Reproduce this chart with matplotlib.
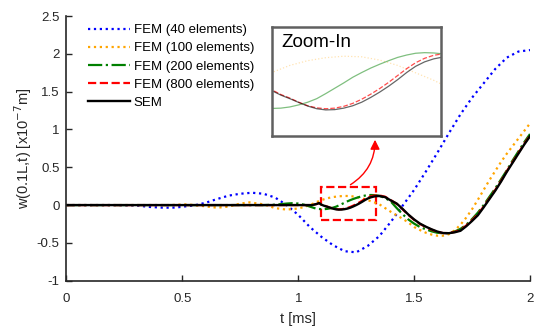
import matplotlib
matplotlib.use('Agg')
import matplotlib.pyplot as plt
from matplotlib.patches import Rectangle

plt.rcParams['font.family'] = ['Liberation Sans', 'DejaVu Sans']

# FEM (40 elements)
t40 = [0, 0.2, 0.3, 0.36, 0.42, 0.47, 0.52, 0.55, 0.6, 0.65, 0.7, 0.75, 0.8, 0.85, 0.9,
       0.95, 1.0, 1.05, 1.1, 1.15, 1.2, 1.25, 1.3, 1.35, 1.4, 1.45, 1.5, 1.55, 1.6, 1.65,
       1.7, 1.75, 1.8, 1.85, 1.9, 1.95, 2.0]
w40 = [0, 0, -0.005, -0.025, -0.035, -0.033, -0.015, -0.005, 0.03, 0.08, 0.125, 0.15,
       0.163, 0.15, 0.1, 0.0, -0.13, -0.29, -0.42, -0.53, -0.61, -0.625, -0.54, -0.41,
       -0.22, -0.01, 0.2, 0.44, 0.69, 0.95, 1.2, 1.42, 1.61, 1.8, 1.95, 2.03, 2.05]

# FEM (100 elements)
t100 = [0, 0.45, 0.52, 0.58, 0.65, 0.7, 0.75, 0.79, 0.85, 0.9, 0.95, 1.0, 1.025, 1.05,
        1.075, 1.1, 1.125, 1.15, 1.175, 1.2, 1.225, 1.25, 1.275, 1.3, 1.325, 1.35, 1.375,
        1.4, 1.425, 1.45, 1.475, 1.5, 1.525, 1.55, 1.575, 1.6, 1.625, 1.65, 1.675, 1.7,
        1.725, 1.75, 1.775, 1.8, 1.825, 1.85, 1.875, 1.9, 1.925, 1.95, 1.975, 2.0]
w100 = [0, 0, 0.01, -0.01, -0.035, -0.02, 0.02, 0.036, 0.01, -0.04, -0.06, -0.045, -0.025,
        0.0, 0.035, 0.066, 0.09, 0.106, 0.116, 0.121, 0.119, 0.108, 0.09, 0.065, 0.04,
        0.01, -0.04, -0.09, -0.135, -0.18, -0.23, -0.29, -0.33, -0.365, -0.39, -0.405,
        -0.405, -0.385, -0.335, -0.26, -0.165, -0.055, 0.07, 0.2, 0.33, 0.45, 0.57, 0.68,
        0.78, 0.88, 0.98, 1.08]

# FEM (200 elements)
t200 = [0, 0.85, 0.9, 0.95, 0.975, 1.0, 1.025, 1.05, 1.075, 1.1, 1.1125, 1.125, 1.1375,
        1.15, 1.1625, 1.175, 1.1875, 1.2, 1.2125, 1.225, 1.2375, 1.25, 1.2625, 1.275,
        1.2875, 1.3, 1.3125, 1.325, 1.3375, 1.35, 1.375, 1.4, 1.425, 1.45, 1.475, 1.5,
        1.525, 1.55, 1.575, 1.6, 1.625, 1.65, 1.675, 1.7, 1.725, 1.75, 1.775, 1.8, 1.825,
        1.85, 1.875, 1.9, 1.925, 1.95, 1.975, 2.0]
w200 = [0, 0, 0.005, 0.02, 0.025, 0.02, 0.005, -0.02, -0.045, -0.055, -0.054, -0.05,
        -0.043, -0.034, -0.022, -0.005, 0.013, 0.031, 0.05, 0.066, 0.081, 0.094, 0.106,
        0.117, 0.125, 0.131, 0.133, 0.132, 0.129, 0.122, 0.095, 0.045, -0.04, -0.12,
        -0.19, -0.245, -0.29, -0.32, -0.347, -0.366, -0.373, -0.37, -0.35, -0.315, -0.26,
        -0.185, -0.1, 0.0, 0.11, 0.22, 0.34, 0.46, 0.59, 0.71, 0.83, 0.94]

# FEM (800 elements) and SEM share the time points
t_sem = [0, 0.9, 0.95, 1.0, 1.03, 1.06, 1.08, 1.09, 1.1, 1.1125, 1.125, 1.1375, 1.15,
         1.1625, 1.175, 1.1875, 1.2, 1.2125, 1.225, 1.2375, 1.25, 1.2625, 1.275, 1.2875,
         1.3, 1.3125, 1.325, 1.3375, 1.35, 1.375, 1.4, 1.425, 1.45, 1.475, 1.5, 1.525,
         1.55, 1.575, 1.6, 1.625, 1.65, 1.675, 1.7, 1.725, 1.75, 1.775, 1.8, 1.825, 1.85,
         1.875, 1.9, 1.925, 1.95, 1.975, 2.0]
w800 = [0, 0, 0, 0, 0.0, 0.0, 0.015, 0.025, 0.008, -0.008, -0.02, -0.034, -0.046,
        -0.053, -0.056, -0.054, -0.048, -0.038, -0.024, -0.007, 0.012, 0.033, 0.056,
        0.079, 0.099, 0.114, 0.124, 0.129, 0.128, 0.11, 0.065, 0.015, -0.055, -0.13,
        -0.195, -0.25, -0.29, -0.325, -0.355, -0.37, -0.37, -0.355, -0.33, -0.27, -0.2,
        -0.12, -0.02, 0.09, 0.2, 0.32, 0.45, 0.57, 0.69, 0.81, 0.92]
w_sem = [0, 0, 0, 0, 0.0, 0.0, 0.015, 0.027, 0.005, -0.01, -0.022, -0.035, -0.047,
         -0.056, -0.06, -0.059, -0.054, -0.046, -0.034, -0.018, 0.0, 0.02, 0.042, 0.066,
         0.087, 0.102, 0.112, 0.118, 0.12, 0.105, 0.06, 0.02, -0.05, -0.125, -0.19,
         -0.245, -0.285, -0.32, -0.35, -0.37, -0.372, -0.36, -0.34, -0.28, -0.21, -0.135,
         -0.03, 0.08, 0.19, 0.31, 0.44, 0.56, 0.68, 0.8, 0.91]

series = [
    (t40, w40, 'FEM (40 elements)', '#0000ff', ':'),
    (t100, w100, 'FEM (100 elements)', '#ffa500', ':'),
    (t200, w200, 'FEM (200 elements)', '#008000', '-.'),
    (t_sem, w800, 'FEM (800 elements)', '#ff0000', '--'),
    (t_sem, w_sem, 'SEM', '#000000', '-'),
]

axc = '#262626'
fig = plt.figure(figsize=(5.34, 3.27), dpi=100)
ax = fig.add_axes([0.1245, 0.1416, 0.868, 0.8094])
for t, w, lab, c, ls in series:
    ax.plot(t, w, color=c, ls=ls, lw=1.6 if ls != '-' else 1.7, label=lab)

ax.set_xlim(0, 2)
ax.set_ylim(-1, 2.5)
ax.set_xticks([0, 0.5, 1, 1.5, 2])
ax.set_xticklabels(['0', '0.5', '1', '1.5', '2'])
ax.set_yticks([-1, -0.5, 0, 0.5, 1, 1.5, 2, 2.5])
ax.set_yticklabels(['-1', '-0.5', '0', '0.5', '1', '1.5', '2', '2.5'])
ax.spines['top'].set_visible(False)
ax.spines['right'].set_visible(False)
for s in ['left', 'bottom']:
    ax.spines[s].set_color(axc)
    ax.spines[s].set_linewidth(1.2)
ax.tick_params(direction='in', length=4, width=1, colors=axc, labelsize=9.5)
ax.tick_params(axis='x', pad=9)
ax.tick_params(axis='y', pad=5)
ax.set_xlabel('t [ms]', fontsize=10.5, color=axc, labelpad=5)
ax.set_ylabel('w(0.1L,t) [x10$^{-7}$m]', fontsize=10.5, color=axc, labelpad=2)

ax.legend(loc='upper left', bbox_to_anchor=(0.02, 1.015), frameon=False, fontsize=9.5,
          handlelength=3.2, handletextpad=0.3, labelspacing=0.45)

# zoom box
ax.add_patch(Rectangle((1.10, -0.2), 0.235, 0.44, fill=False, ec='#ff0000',
                       ls='--', lw=1.6))

ax.annotate('', xy=(1.331, 0.9), xytext=(1.215, 0.25),
            arrowprops=dict(arrowstyle='-|>', color='#ff0000', lw=1.0,
                            mutation_scale=14,
                            connectionstyle='arc3,rad=0.3'))

# inset
ins = fig.add_axes([0.509, 0.584, 0.3165, 0.333])
inset_alpha = [0.0, 0.3, 0.5, 0.7, 0.6]
for (t, w, lab, c, ls), a in zip(series, inset_alpha):
    if a == 0:
        continue
    ins.plot(t, w, color=c, ls=ls if ls != '-.' else '-', lw=0.9, alpha=a)
ins.set_xlim(1.1, 1.335)
ins.set_ylim(-0.148, 0.219)
ins.set_xticks([])
ins.set_yticks([])
for s in ins.spines.values():
    s.set_color('#606060')
    s.set_linewidth(1.8)
ins.text(0.055, 0.94, 'Zoom-In', transform=ins.transAxes, fontsize=13.5,
         va='top', ha='left')

fig.savefig('out.png', dpi=100)
